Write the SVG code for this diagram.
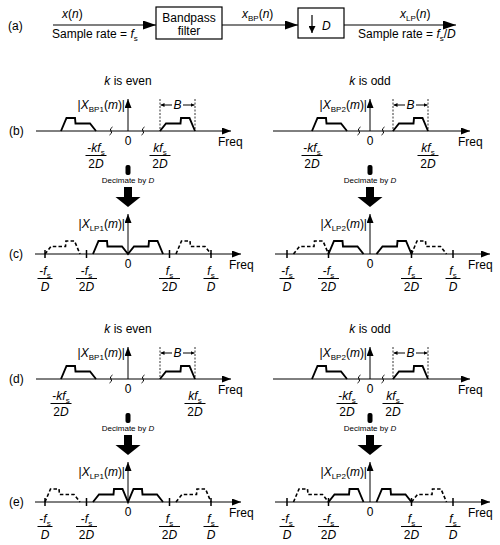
<svg xmlns="http://www.w3.org/2000/svg" width="500" height="545" viewBox="0 0 500 545">
<defs>
<style>
text{font-family:"Liberation Sans",Arial,Helvetica,sans-serif;font-size:12px;fill:#000}
.i{font-style:italic}
.sm{font-size:8px}
.dec{font-size:8px}
.ax{stroke:#000;stroke-width:1;fill:none}
.sp{stroke:#000;stroke-width:1.9;fill:none;stroke-linejoin:miter}
.ds{stroke:#000;stroke-width:1.6;fill:none;stroke-dasharray:3.5 2.2}
.dim{stroke:#000;stroke-width:0.8;stroke-dasharray:2 1.5;fill:none}
.tk{stroke:#000;stroke-width:1.5}
.fb{stroke:#000;stroke-width:1}
.brk{stroke:#000;stroke-width:1;fill:none}
.box{fill:#fff;stroke:#000;stroke-width:1.2}
.ln{stroke:#000;stroke-width:1.2;fill:none}
</style>
<marker id="ah" viewBox="0 0 9 7" refX="9" refY="3.5" markerWidth="9" markerHeight="7" markerUnits="userSpaceOnUse" orient="auto"><path d="M0,0 L9,3.5 L0,7 z" fill="#000"/></marker>
<marker id="ahb" viewBox="0 0 13 9" refX="13" refY="4.5" markerWidth="13" markerHeight="9" markerUnits="userSpaceOnUse" orient="auto"><path d="M0,0 L13,4.5 L0,9 z" fill="#000"/></marker>
<marker id="ahs" viewBox="0 0 4 4" refX="4" refY="2" markerWidth="4" markerHeight="4" markerUnits="userSpaceOnUse" orient="auto"><path d="M0,0 L4,2 L0,4 z" fill="#000"/></marker>
<marker id="ahd" viewBox="0 0 7 7" refX="7" refY="3.5" markerWidth="7" markerHeight="7" markerUnits="userSpaceOnUse" orient="auto"><path d="M0,0 L7,3.5 L0,7 z" fill="#000"/></marker>
</defs>
<rect width="500" height="545" fill="#fff"/>

<!-- Panel (a) -->
<text x="8" y="30">(a)</text>
<g id="bandpass">
<rect class="box" x="156" y="7" width="66" height="32"/>
<text x="189" y="21.5" text-anchor="middle">Bandpass</text>
<text x="189" y="35" text-anchor="middle">filter</text>
</g>
<g id="downsampler">
<rect class="box" x="298" y="8" width="46" height="30"/>
<line class="ln" x1="312" y1="15" x2="312" y2="33" marker-end="url(#ahd)"/>
<text x="322" y="29.5" class="i">D</text>
</g>
<g id="connectors">
<line class="ln" x1="53" y1="25" x2="156" y2="25" marker-end="url(#ahb)"/>
<line class="ln" x1="222" y1="25" x2="298" y2="25" marker-end="url(#ahb)"/>
<line class="ln" x1="344" y1="25" x2="456" y2="25" marker-end="url(#ahb)"/>
<rect x="125.5" y="165" width="5" height="10" rx="2" fill="#000"/>
<rect x="124" y="187" width="8" height="10" fill="#000"/>
<path d="M115.5,197 L140.5,197 L128,207 z" fill="#000"/>
<rect x="367.5" y="165" width="5" height="10" rx="2" fill="#000"/>
<rect x="366" y="187" width="8" height="10" fill="#000"/>
<path d="M357.5,197 L382.5,197 L370,207 z" fill="#000"/>
<rect x="125.5" y="413" width="5" height="10" rx="2" fill="#000"/>
<rect x="124" y="435" width="8" height="10" fill="#000"/>
<path d="M115.5,445 L140.5,445 L128,455 z" fill="#000"/>
<rect x="367.5" y="413" width="5" height="10" rx="2" fill="#000"/>
<rect x="366" y="435" width="8" height="10" fill="#000"/>
<path d="M357.5,445 L382.5,445 L370,455 z" fill="#000"/>
</g>
<g id="a-labels">
<text x="62" y="18"><tspan class="i">x</tspan>(<tspan class="i">n</tspan>)</text>
<text x="52" y="38">Sample rate = <tspan class="i">f</tspan><tspan class="sm" dy="3">s</tspan></text>
<text x="242" y="18"><tspan class="i">x</tspan><tspan class="sm" dy="3">BP</tspan><tspan dy="-3">(</tspan><tspan class="i">n</tspan>)</text>
<text x="400" y="18"><tspan class="i">x</tspan><tspan class="sm" dy="3">LP</tspan><tspan dy="-3">(</tspan><tspan class="i">n</tspan>)</text>
<text x="358" y="38">Sample rate = <tspan class="i">f</tspan><tspan class="sm" dy="3">s</tspan><tspan dy="-3">/</tspan><tspan class="i">D</tspan></text>
</g>
<g id="dec-labels">
<text class="dec" x="128" y="183" text-anchor="middle">Decimate by  <tspan class="i">D</tspan></text>
<text class="dec" x="370" y="183" text-anchor="middle">Decimate by  <tspan class="i">D</tspan></text>
<text class="dec" x="128" y="431" text-anchor="middle">Decimate by  <tspan class="i">D</tspan></text>
<text class="dec" x="370" y="431" text-anchor="middle">Decimate by  <tspan class="i">D</tspan></text>
</g>

<!-- Panel (b) -->
<text x="9" y="135">(b)</text>
<g id="b-left">
<text x="128" y="85" text-anchor="middle"><tspan class="i">k</tspan> is even</text>
<line class="ax" x1="36" y1="131" x2="231" y2="131" marker-end="url(#ah)"/>
<line class="ax" x1="128" y1="131" x2="128" y2="99" marker-end="url(#ah)"/>
<text x="125" y="108.5" text-anchor="end">|<tspan class="i">X</tspan><tspan class="sm" dy="3">BP1</tspan><tspan dy="-3">(</tspan><tspan class="i">m</tspan>)|</text>
<path class="sp" d="M61,131 L66.5,118 L75,118 L75.5,123.5 L90,123.5 L96,131"/>
<path class="sp" d="M160,131 L166,123.5 L180.5,123.5 L181,118 L189.5,118 L195,131"/>
<line class="dim" x1="160" y1="99" x2="160" y2="131"/>
<line class="dim" x1="195" y1="99" x2="195" y2="131"/>
<line class="fb" x1="172" y1="105" x2="160.5" y2="105" marker-end="url(#ahs)"/>
<line class="fb" x1="183" y1="105" x2="194.5" y2="105" marker-end="url(#ahs)"/>
<text x="177.5" y="109" text-anchor="middle" class="i">B</text>
<path class="brk" d="M109.5,135 Q113,133 111,131 Q109,129 112.5,127"/>
<path class="brk" d="M141.5,135 Q145,133 143,131 Q141,129 144.5,127"/>
<text x="128" y="145" text-anchor="middle">0</text>
<text x="96" y="152" text-anchor="middle">-<tspan class="i">kf</tspan><tspan class="sm" dy="3">s</tspan></text>
<line class="fb" x1="85.5" y1="155.5" x2="106.5" y2="155.5"/>
<text x="96" y="167.5" text-anchor="middle">2<tspan class="i">D</tspan></text>
<text x="160" y="152" text-anchor="middle"><tspan class="i">kf</tspan><tspan class="sm" dy="3">s</tspan></text>
<line class="fb" x1="149.5" y1="155.5" x2="170.5" y2="155.5"/>
<text x="160" y="167.5" text-anchor="middle">2<tspan class="i">D</tspan></text>
<text x="218" y="146">Freq</text>
</g>
<g id="b-right">
<text x="370" y="85" text-anchor="middle"><tspan class="i">k</tspan> is odd</text>
<line class="ax" x1="273" y1="131" x2="470" y2="131" marker-end="url(#ah)"/>
<line class="ax" x1="370" y1="131" x2="370" y2="99" marker-end="url(#ah)"/>
<text x="367" y="108.5" text-anchor="end">|<tspan class="i">X</tspan><tspan class="sm" dy="3">BP2</tspan><tspan dy="-3">(</tspan><tspan class="i">m</tspan>)|</text>
<path class="sp" d="M312,131 L317.5,118 L326,118 L326.5,123.5 L341,123.5 L347,131"/>
<path class="sp" d="M393,131 L399,123.5 L413.5,123.5 L414,118 L422.5,118 L428,131"/>
<line class="dim" x1="393" y1="99" x2="393" y2="131"/>
<line class="dim" x1="428" y1="99" x2="428" y2="131"/>
<line class="fb" x1="405" y1="105" x2="393.5" y2="105" marker-end="url(#ahs)"/>
<line class="fb" x1="416" y1="105" x2="427.5" y2="105" marker-end="url(#ahs)"/>
<text x="410.5" y="109" text-anchor="middle" class="i">B</text>
<path class="brk" d="M357.5,135 Q361,133 359,131 Q357,129 360.5,127"/>
<path class="brk" d="M381.5,135 Q385,133 383,131 Q381,129 384.5,127"/>
<text x="370" y="145" text-anchor="middle">0</text>
<text x="312" y="152" text-anchor="middle">-<tspan class="i">kf</tspan><tspan class="sm" dy="3">s</tspan></text>
<line class="fb" x1="301.5" y1="155.5" x2="322.5" y2="155.5"/>
<text x="312" y="167.5" text-anchor="middle">2<tspan class="i">D</tspan></text>
<text x="428" y="152" text-anchor="middle"><tspan class="i">kf</tspan><tspan class="sm" dy="3">s</tspan></text>
<line class="fb" x1="417.5" y1="155.5" x2="438.5" y2="155.5"/>
<text x="428" y="167.5" text-anchor="middle">2<tspan class="i">D</tspan></text>
<text x="458" y="146">Freq</text>
</g>

<!-- Panel (c) -->
<text x="9" y="258">(c)</text>
<g id="c-left">
<line class="ax" x1="35" y1="254" x2="241" y2="254" marker-end="url(#ah)"/>
<line class="ax" x1="128" y1="254" x2="128" y2="214" marker-end="url(#ah)"/>
<text x="125" y="228" text-anchor="end">|<tspan class="i">X</tspan><tspan class="sm" dy="3">LP1</tspan><tspan dy="-3">(</tspan><tspan class="i">m</tspan>)|</text>
<path class="sp" d="M93,254 L98.5,241 L107,241 L107.5,246.5 L122,246.5 L128,254 L134,246.5 L148.5,246.5 L149,241 L157.5,241 L163,254"/>
<path class="ds" d="M45,254 L51,246.5 L65.5,246.5 L66,241 L74.5,241 L80,254"/>
<path class="ds" d="M176,254 L181.5,241 L190,241 L190.5,246.5 L205,246.5 L211,254"/>
<line class="tk" x1="45" y1="250" x2="45" y2="258"/>
<line class="tk" x1="86.5" y1="250" x2="86.5" y2="258"/>
<line class="tk" x1="169.5" y1="250" x2="169.5" y2="258"/>
<line class="tk" x1="211" y1="250" x2="211" y2="258"/>
<text x="128" y="268" text-anchor="middle">0</text>
<text x="45" y="275" text-anchor="middle">-<tspan class="i">f</tspan><tspan class="sm" dy="3">s</tspan></text>
<line class="fb" x1="37.5" y1="278.5" x2="52.5" y2="278.5"/>
<text x="45" y="290.5" text-anchor="middle" class="i">D</text>
<text x="86.5" y="275" text-anchor="middle">-<tspan class="i">f</tspan><tspan class="sm" dy="3">s</tspan></text>
<line class="fb" x1="76" y1="278.5" x2="97" y2="278.5"/>
<text x="86.5" y="290.5" text-anchor="middle">2<tspan class="i">D</tspan></text>
<text x="169.5" y="275" text-anchor="middle"><tspan class="i">f</tspan><tspan class="sm" dy="3">s</tspan></text>
<line class="fb" x1="159" y1="278.5" x2="180" y2="278.5"/>
<text x="169.5" y="290.5" text-anchor="middle">2<tspan class="i">D</tspan></text>
<text x="211" y="275" text-anchor="middle"><tspan class="i">f</tspan><tspan class="sm" dy="3">s</tspan></text>
<line class="fb" x1="203.5" y1="278.5" x2="218.5" y2="278.5"/>
<text x="211" y="290.5" text-anchor="middle" class="i">D</text>
<text x="229" y="269">Freq</text>
</g>
<g id="c-right">
<line class="ax" x1="275" y1="254" x2="490" y2="254" marker-end="url(#ah)"/>
<line class="ax" x1="370" y1="254" x2="370" y2="214" marker-end="url(#ah)"/>
<text x="367" y="228" text-anchor="end">|<tspan class="i">X</tspan><tspan class="sm" dy="3">LP2</tspan><tspan dy="-3">(</tspan><tspan class="i">m</tspan>)|</text>
<path class="sp" d="M328.5,254 L334,241 L342.5,241 L343,246.5 L357.5,246.5 L363.5,254"/>
<path class="sp" d="M376.5,254 L382.5,246.5 L397,246.5 L397.5,241 L406,241 L411.5,254"/>
<path class="ds" d="M293.5,254 L299.5,246.5 L314,246.5 L314.5,241 L323,241 L328.5,254"/>
<path class="ds" d="M411.5,254 L417,241 L425.5,241 L426,246.5 L440.5,246.5 L446.5,254"/>
<line class="tk" x1="287" y1="250" x2="287" y2="258"/>
<line class="tk" x1="328.5" y1="250" x2="328.5" y2="258"/>
<line class="tk" x1="411.5" y1="250" x2="411.5" y2="258"/>
<line class="tk" x1="453" y1="250" x2="453" y2="258"/>
<text x="370" y="268" text-anchor="middle">0</text>
<text x="287" y="275" text-anchor="middle">-<tspan class="i">f</tspan><tspan class="sm" dy="3">s</tspan></text>
<line class="fb" x1="279.5" y1="278.5" x2="294.5" y2="278.5"/>
<text x="287" y="290.5" text-anchor="middle" class="i">D</text>
<text x="328.5" y="275" text-anchor="middle">-<tspan class="i">f</tspan><tspan class="sm" dy="3">s</tspan></text>
<line class="fb" x1="318" y1="278.5" x2="339" y2="278.5"/>
<text x="328.5" y="290.5" text-anchor="middle">2<tspan class="i">D</tspan></text>
<text x="411.5" y="275" text-anchor="middle"><tspan class="i">f</tspan><tspan class="sm" dy="3">s</tspan></text>
<line class="fb" x1="401" y1="278.5" x2="422" y2="278.5"/>
<text x="411.5" y="290.5" text-anchor="middle">2<tspan class="i">D</tspan></text>
<text x="453" y="275" text-anchor="middle"><tspan class="i">f</tspan><tspan class="sm" dy="3">s</tspan></text>
<line class="fb" x1="445.5" y1="278.5" x2="460.5" y2="278.5"/>
<text x="453" y="290.5" text-anchor="middle" class="i">D</text>
<text x="468" y="269">Freq</text>
</g>

<!-- Panel (d) -->
<text x="9" y="383">(d)</text>
<g id="d-left">
<text x="128" y="333" text-anchor="middle"><tspan class="i">k</tspan> is even</text>
<line class="ax" x1="36" y1="379" x2="231" y2="379" marker-end="url(#ah)"/>
<line class="ax" x1="128" y1="379" x2="128" y2="347" marker-end="url(#ah)"/>
<text x="125" y="356.5" text-anchor="end">|<tspan class="i">X</tspan><tspan class="sm" dy="3">BP1</tspan><tspan dy="-3">(</tspan><tspan class="i">m</tspan>)|</text>
<path class="sp" d="M61,379 L66.5,366 L75,366 L75.5,371.5 L90,371.5 L96,379"/>
<path class="sp" d="M160,379 L166,371.5 L180.5,371.5 L181,366 L189.5,366 L195,379"/>
<line class="dim" x1="160" y1="347" x2="160" y2="379"/>
<line class="dim" x1="195" y1="347" x2="195" y2="379"/>
<line class="fb" x1="172" y1="353" x2="160.5" y2="353" marker-end="url(#ahs)"/>
<line class="fb" x1="183" y1="353" x2="194.5" y2="353" marker-end="url(#ahs)"/>
<text x="177.5" y="357" text-anchor="middle" class="i">B</text>
<path class="brk" d="M109.5,383 Q113,381 111,379 Q109,377 112.5,375"/>
<path class="brk" d="M141.5,383 Q145,381 143,379 Q141,377 144.5,375"/>
<text x="128" y="393" text-anchor="middle">0</text>
<text x="61" y="400" text-anchor="middle">-<tspan class="i">kf</tspan><tspan class="sm" dy="3">s</tspan></text>
<line class="fb" x1="50.5" y1="403.5" x2="71.5" y2="403.5"/>
<text x="61" y="415.5" text-anchor="middle">2<tspan class="i">D</tspan></text>
<text x="195" y="400" text-anchor="middle"><tspan class="i">kf</tspan><tspan class="sm" dy="3">s</tspan></text>
<line class="fb" x1="184.5" y1="403.5" x2="205.5" y2="403.5"/>
<text x="195" y="415.5" text-anchor="middle">2<tspan class="i">D</tspan></text>
<text x="218" y="394">Freq</text>
</g>
<g id="d-right">
<text x="370" y="333" text-anchor="middle"><tspan class="i">k</tspan> is odd</text>
<line class="ax" x1="273" y1="379" x2="470" y2="379" marker-end="url(#ah)"/>
<line class="ax" x1="370" y1="379" x2="370" y2="347" marker-end="url(#ah)"/>
<text x="367" y="356.5" text-anchor="end">|<tspan class="i">X</tspan><tspan class="sm" dy="3">BP2</tspan><tspan dy="-3">(</tspan><tspan class="i">m</tspan>)|</text>
<path class="sp" d="M312,379 L317.5,366 L326,366 L326.5,371.5 L341,371.5 L347,379"/>
<path class="sp" d="M393,379 L399,371.5 L413.5,371.5 L414,366 L422.5,366 L428,379"/>
<line class="dim" x1="393" y1="347" x2="393" y2="379"/>
<line class="dim" x1="428" y1="347" x2="428" y2="379"/>
<line class="fb" x1="405" y1="353" x2="393.5" y2="353" marker-end="url(#ahs)"/>
<line class="fb" x1="416" y1="353" x2="427.5" y2="353" marker-end="url(#ahs)"/>
<text x="410.5" y="357" text-anchor="middle" class="i">B</text>
<path class="brk" d="M357.5,383 Q361,381 359,379 Q357,377 360.5,375"/>
<path class="brk" d="M381.5,383 Q385,381 383,379 Q381,377 384.5,375"/>
<text x="370" y="393" text-anchor="middle">0</text>
<text x="347" y="400" text-anchor="middle">-<tspan class="i">kf</tspan><tspan class="sm" dy="3">s</tspan></text>
<line class="fb" x1="336.5" y1="403.5" x2="357.5" y2="403.5"/>
<text x="347" y="415.5" text-anchor="middle">2<tspan class="i">D</tspan></text>
<text x="393" y="400" text-anchor="middle"><tspan class="i">kf</tspan><tspan class="sm" dy="3">s</tspan></text>
<line class="fb" x1="382.5" y1="403.5" x2="403.5" y2="403.5"/>
<text x="393" y="415.5" text-anchor="middle">2<tspan class="i">D</tspan></text>
<text x="458" y="394">Freq</text>
</g>

<!-- Panel (e) -->
<text x="9" y="506">(e)</text>
<g id="e-left">
<line class="ax" x1="35" y1="502" x2="241" y2="502" marker-end="url(#ah)"/>
<line class="ax" x1="128" y1="502" x2="128" y2="462" marker-end="url(#ah)"/>
<text x="125" y="476" text-anchor="end">|<tspan class="i">X</tspan><tspan class="sm" dy="3">LP1</tspan><tspan dy="-3">(</tspan><tspan class="i">m</tspan>)|</text>
<path class="sp" d="M93,502 L99,494.5 L113.5,494.5 L114,489 L122.5,489 L128,502 L133.5,489 L142,489 L142.5,494.5 L157,494.5 L163,502"/>
<path class="ds" d="M45,502 L50.5,489 L59,489 L59.5,494.5 L74,494.5 L80,502"/>
<path class="ds" d="M176,502 L182,494.5 L196.5,494.5 L197,489 L205.5,489 L211,502"/>
<line class="tk" x1="45" y1="498" x2="45" y2="506"/>
<line class="tk" x1="86.5" y1="498" x2="86.5" y2="506"/>
<line class="tk" x1="169.5" y1="498" x2="169.5" y2="506"/>
<line class="tk" x1="211" y1="498" x2="211" y2="506"/>
<text x="128" y="516" text-anchor="middle">0</text>
<text x="45" y="523" text-anchor="middle">-<tspan class="i">f</tspan><tspan class="sm" dy="3">s</tspan></text>
<line class="fb" x1="37.5" y1="526.5" x2="52.5" y2="526.5"/>
<text x="45" y="538.5" text-anchor="middle" class="i">D</text>
<text x="86.5" y="523" text-anchor="middle">-<tspan class="i">f</tspan><tspan class="sm" dy="3">s</tspan></text>
<line class="fb" x1="76" y1="526.5" x2="97" y2="526.5"/>
<text x="86.5" y="538.5" text-anchor="middle">2<tspan class="i">D</tspan></text>
<text x="169.5" y="523" text-anchor="middle"><tspan class="i">f</tspan><tspan class="sm" dy="3">s</tspan></text>
<line class="fb" x1="159" y1="526.5" x2="180" y2="526.5"/>
<text x="169.5" y="538.5" text-anchor="middle">2<tspan class="i">D</tspan></text>
<text x="211" y="523" text-anchor="middle"><tspan class="i">f</tspan><tspan class="sm" dy="3">s</tspan></text>
<line class="fb" x1="203.5" y1="526.5" x2="218.5" y2="526.5"/>
<text x="211" y="538.5" text-anchor="middle" class="i">D</text>
<text x="229" y="517">Freq</text>
</g>
<g id="e-right">
<line class="ax" x1="275" y1="502" x2="490" y2="502" marker-end="url(#ah)"/>
<line class="ax" x1="370" y1="502" x2="370" y2="462" marker-end="url(#ah)"/>
<text x="367" y="476" text-anchor="end">|<tspan class="i">X</tspan><tspan class="sm" dy="3">LP2</tspan><tspan dy="-3">(</tspan><tspan class="i">m</tspan>)|</text>
<path class="sp" d="M328.5,502 L334.5,494.5 L349,494.5 L349.5,489 L358,489 L363.5,502"/>
<path class="sp" d="M376.5,502 L382,489 L390.5,489 L391,494.5 L405.5,494.5 L411.5,502"/>
<path class="ds" d="M293.5,502 L299,489 L307.5,489 L308,494.5 L322.5,494.5 L328.5,502"/>
<path class="ds" d="M411.5,502 L417.5,494.5 L432,494.5 L432.5,489 L441,489 L446.5,502"/>
<line class="tk" x1="287" y1="498" x2="287" y2="506"/>
<line class="tk" x1="328.5" y1="498" x2="328.5" y2="506"/>
<line class="tk" x1="411.5" y1="498" x2="411.5" y2="506"/>
<line class="tk" x1="453" y1="498" x2="453" y2="506"/>
<text x="370" y="516" text-anchor="middle">0</text>
<text x="287" y="523" text-anchor="middle">-<tspan class="i">f</tspan><tspan class="sm" dy="3">s</tspan></text>
<line class="fb" x1="279.5" y1="526.5" x2="294.5" y2="526.5"/>
<text x="287" y="538.5" text-anchor="middle" class="i">D</text>
<text x="328.5" y="523" text-anchor="middle">-<tspan class="i">f</tspan><tspan class="sm" dy="3">s</tspan></text>
<line class="fb" x1="318" y1="526.5" x2="339" y2="526.5"/>
<text x="328.5" y="538.5" text-anchor="middle">2<tspan class="i">D</tspan></text>
<text x="411.5" y="523" text-anchor="middle"><tspan class="i">f</tspan><tspan class="sm" dy="3">s</tspan></text>
<line class="fb" x1="401" y1="526.5" x2="422" y2="526.5"/>
<text x="411.5" y="538.5" text-anchor="middle">2<tspan class="i">D</tspan></text>
<text x="453" y="523" text-anchor="middle"><tspan class="i">f</tspan><tspan class="sm" dy="3">s</tspan></text>
<line class="fb" x1="445.5" y1="526.5" x2="460.5" y2="526.5"/>
<text x="453" y="538.5" text-anchor="middle" class="i">D</text>
<text x="468" y="517">Freq</text>
</g>
</svg>
